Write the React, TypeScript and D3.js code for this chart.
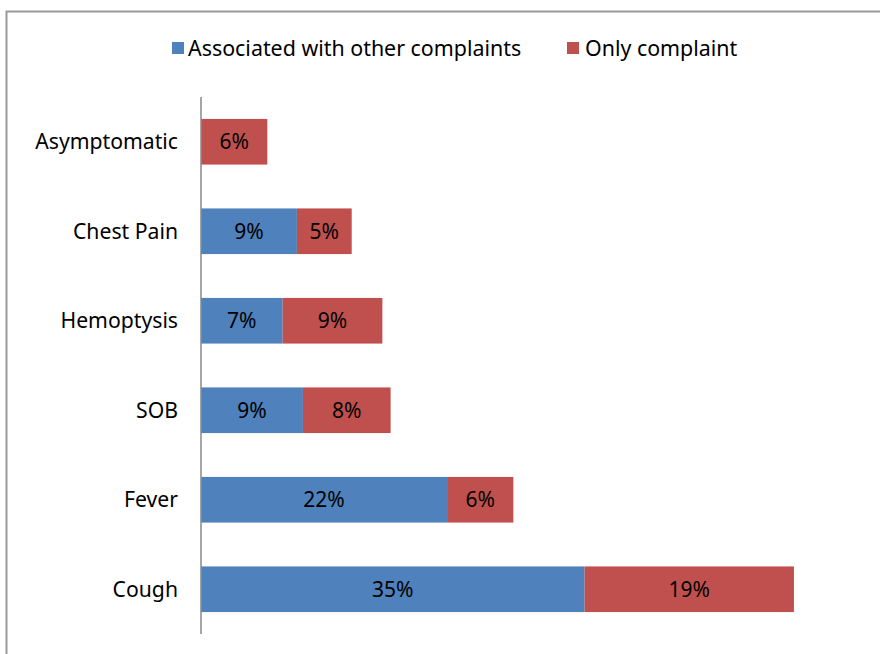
import * as d3 from "d3";

const categories = ["Asymptomatic", "Chest Pain", "Hemoptysis", "SOB", "Fever", "Cough"];
const associated = [0, 8.75, 7.45, 9.3, 22.45, 35.0];
const onlyComplaint = [6.05, 5.0, 9.1, 8.0, 6.05, 19.1];
const seriesNames = ["Associated with other complaints", "Only complaint"];
const colors = ["#4F81BD", "#C0504D"];

const width = 880;
const height = 654;
const marginLeft = 201;
const marginTop = 97;
const plotBottom = 634;
const font = "'Noto Sans', 'Open Sans', sans-serif";

export default function App() {
  const x = d3.scaleLinear([0, 10], [marginLeft, marginLeft + 109.6]);
  const y = d3.scaleBand(categories, [marginTop, plotBottom]).paddingInner(0.49).paddingOuter(0.245);
  const fmt = (v: number) => `${Math.round(v)}%`;

  const rows = categories.map((c, i) => ({
    c,
    segs: [
      { s: 0, x0: 0, x1: associated[i], v: associated[i] },
      { s: 1, x0: associated[i], x1: associated[i] + onlyComplaint[i], v: onlyComplaint[i] },
    ],
  }));

  return (
    <svg width={width} height={height} style={{ position: "absolute", left: 0, top: 0 }} fontFamily={font}>
      <rect x={0} y={0} width={width} height={height} fill="white" />
      <path d={`M6.5,${height}V11.5H${width}`} fill="none" stroke="#999" strokeWidth={2} />

      {/* legend */}
      <g fontSize={21.4}>
        <rect x={172} y={42} width={12} height={12} fill={colors[0]} />
        <text x={188} y={55.5}>{seriesNames[0]}</text>
        <rect x={567} y={42} width={12} height={12} fill={colors[1]} />
        <text x={585} y={55.5}>{seriesNames[1]}</text>
      </g>

      {rows.map((r) => (
        <g key={r.c}>
          {r.segs
            .filter((d) => d.v > 0)
            .map((d) => (
              <g key={d.s}>
                <rect
                  x={x(d.x0)}
                  y={y(r.c)!}
                  width={x(d.x1) - x(d.x0)}
                  height={y.bandwidth()}
                  fill={colors[d.s]}
                />
                <text
                  x={(x(d.x0) + x(d.x1)) / 2}
                  y={y(r.c)! + y.bandwidth() / 2}
                  dy="0.35em"
                  textAnchor="middle"
                  fontSize={21}
                >
                  {fmt(d.v)}
                </text>
              </g>
            ))}
          <text x={178} y={y(r.c)! + y.bandwidth() / 2} dy="0.35em" textAnchor="end" fontSize={21.2}>
            {r.c}
          </text>
        </g>
      ))}

      <line x1={marginLeft} x2={marginLeft} y1={marginTop} y2={plotBottom} stroke="#888" strokeWidth={1.5} />
    </svg>
  );
}
